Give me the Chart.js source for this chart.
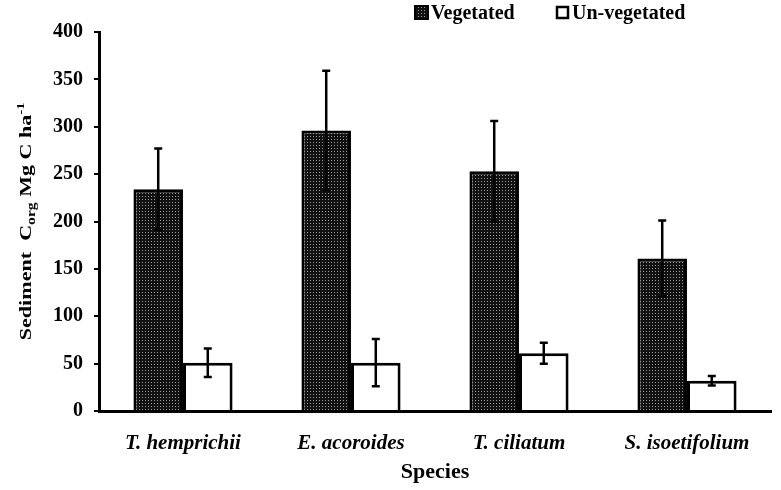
<!DOCTYPE html>
<html>
<head>
<meta charset="utf-8">
<script src="https://cdn.jsdelivr.net/npm/chart.js"></script>
<style>
  html, body { margin: 0; padding: 0; background: #fff; }
  #wrap { width: 781px; height: 490px; }
</style>
</head>
<body>
<div id="wrap"><canvas id="corgChart" width="781" height="490"></canvas></div>

<script>
    // data
    const species = ['T. hemprichii', 'E. acoroides', 'T. ciliatum', 'S. isoetifolium'];
    const vegetated = [234, 296, 253, 161];
    const vegetatedErr = [43, 63, 53, 40];
    const unvegetated = [51, 51, 61, 32];
    const unvegetatedErr = [15, 25, 11, 5];
    const yTicks = [0, 50, 100, 150, 200, 250, 300, 350, 400];

    const serif = '"Liberation Serif", "Times New Roman", serif';

    // dark dotted fill like the original
    function makeDots() {
        const c = document.createElement('canvas');
        c.width = 3; c.height = 3;
        const g = c.getContext('2d');
        g.fillStyle = '#111';
        g.fillRect(0, 0, 3, 3);
        g.fillStyle = '#9a9a9a';
        g.fillRect(1, 1, 1, 1);
        return g.createPattern(c, 'repeat');
    }
    const dots = makeDots();

    const errors = [vegetatedErr, unvegetatedErr];

    const errorBars = {
        id: 'errorBars',
        afterDatasetsDraw(chart) {
            const ctx = chart.ctx;
            const y = chart.scales.y;
            ctx.save();
            ctx.strokeStyle = '#000';
            ctx.lineWidth = 2.5;
            chart.data.datasets.forEach((ds, i) => {
                chart.getDatasetMeta(i).data.forEach((bar, j) => {
                    const v = ds.data[j], e = errors[i][j];
                    const top = y.getPixelForValue(v + e);
                    const bot = y.getPixelForValue(v - e);
                    ctx.beginPath();
                    ctx.moveTo(bar.x, top); ctx.lineTo(bar.x, bot);
                    ctx.moveTo(bar.x - 4, top); ctx.lineTo(bar.x + 4, top);
                    ctx.moveTo(bar.x - 4, bot); ctx.lineTo(bar.x + 4, bot);
                    ctx.stroke();
                });
            });
            ctx.restore();
        }
    };

    // legend + y title with sub/superscript
    const extras = {
        id: 'extras',
        afterDraw(chart) {
            const ctx = chart.ctx;
            ctx.save();
            ctx.textBaseline = 'middle';
            ctx.font = 'bold 20px ' + serif;

            ctx.fillStyle = dots;
            ctx.fillRect(415, 6, 13, 13);
            ctx.lineWidth = 2;
            ctx.strokeStyle = '#000';
            ctx.strokeRect(415, 6, 13, 13);
            ctx.fillStyle = '#000';
            ctx.fillText('Vegetated', 431, 14);

            ctx.fillStyle = '#fff';
            ctx.fillRect(557, 7, 11, 11);
            ctx.lineWidth = 2.5;
            ctx.strokeRect(557, 7, 11, 11);
            ctx.fillStyle = '#000';
            ctx.fillText('Un-vegetated', 572, 14);

            // y axis title (stretched along its length like the original)
            const area = chart.chartArea;
            const parts = [
                ['Sediment  C', 'bold 17px ' + serif, 0],
                ['org', 'bold 12px ' + serif, 5],
                [' Mg C ha', 'bold 17px ' + serif, 0],
                ['-1', 'bold 11px ' + serif, -6]
            ];
            let total = 0;
            parts.forEach(p => { ctx.font = p[1]; total += ctx.measureText(p[0]).width; });
            ctx.translate(27, (area.top + area.bottom) / 2);
            ctx.rotate(-Math.PI / 2);
            ctx.scale(1.3, 1);
            let x = -total / 2;
            parts.forEach(p => {
                ctx.font = p[1];
                ctx.fillText(p[0], x, p[2]);
                x += ctx.measureText(p[0]).width;
            });
            ctx.restore();
        }
    };

    const ctx = document.getElementById('corgChart').getContext('2d');
    const corgChart = new Chart(ctx, {
        type: 'bar',
        data: {
            labels: species,
            datasets: [{
                label: 'Vegetated',
                data: vegetated,
                backgroundColor: dots,
                borderColor: '#000',
                borderWidth: 3
            }, {
                label: 'Un-vegetated',
                data: unvegetated,
                backgroundColor: '#fff',
                borderColor: '#000',
                borderWidth: 3
            }]
        },
        options: {
            responsive: false,
            animation: false,
            layout: { padding: { top: 32, right: 10, left: 10, bottom: 0 } },
            datasets: { bar: { categoryPercentage: 0.59, barPercentage: 1 } },
            plugins: {
                legend: { display: false },
                tooltip: { enabled: false }
            },
            scales: {
                x: {
                    grid: { display: false },
                    border: { color: '#000', width: 3 },
                    ticks: {
                        color: '#000',
                        padding: 12,
                        font: { family: serif, size: 21, weight: 'bold', style: 'italic' }
                    },
                    title: {
                        display: true,
                        text: 'Species',
                        color: '#000',
                        padding: { top: 4, bottom: 4 },
                        font: { family: serif, size: 22, weight: 'bold' }
                    },
                    afterFit: s => { s.height = 79; }
                },
                y: {
                    min: 0,
                    max: 400,
                    afterBuildTicks: s => { s.ticks = yTicks.map(v => ({ value: v })); },
                    grid: { drawOnChartArea: false, tickLength: 5, color: '#000', lineWidth: 2 },
                    border: { color: '#000', width: 3 },
                    ticks: {
                        color: '#000',
                        padding: 11,
                        font: { family: serif, size: 20, weight: 'bold' }
                    },
                    afterFit: s => { s.width = 89; }
                }
            }
        },
        plugins: [errorBars, extras]
    });
</script>
</body>
</html>
